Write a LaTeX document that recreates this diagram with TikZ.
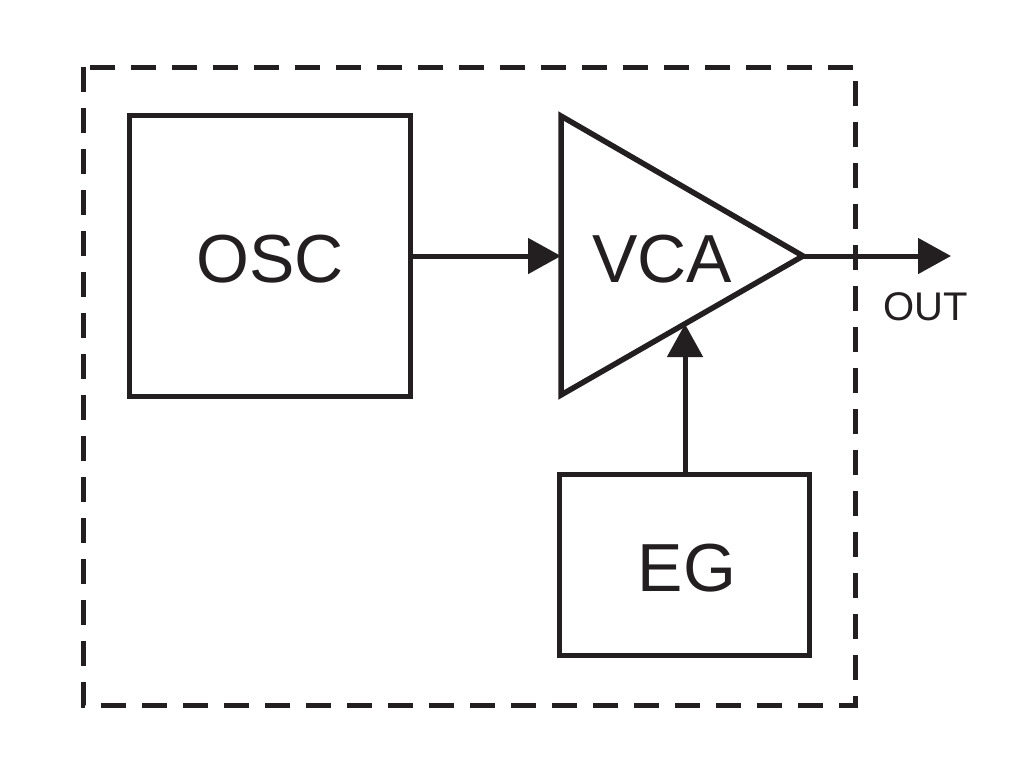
\documentclass[tikz,border=0pt]{standalone}
\usepackage{fontspec}
\setmainfont{Liberation Sans}
\usetikzlibrary{arrows.meta}
\definecolor{ink}{HTML}{231F20}
\begin{document}
\begin{tikzpicture}[x=1pt,y=-1pt,
  box/.style={draw=ink,line width=5.5pt},
  lbl/.style={text=ink,font=\fontsize{68}{80}\selectfont,anchor=base,inner sep=0pt},
  conn/.style={draw=ink,line width=5pt,-{Triangle[length=33pt,width=35pt]}},
  frame/.style={draw=ink,line width=5pt,dash pattern=on 25pt off 16pt}]
\useasboundingbox (0,0) rectangle (1024,772);
\fill[white] (0,0) rectangle (1024,772);
% dashed enclosure
\draw[frame] (83,67) rectangle (855,705);
% OSC box
\draw[box] (129.5,115.5) rectangle (410.5,396.5);
\node[lbl] (osc) at (270,282) {OSC};
\coordinate (oscR) at (410.5,256);
% VCA triangle
\coordinate (tl) at (561,116);
\coordinate (bl) at (561,395);
\coordinate (apex) at (803,256);
\coordinate (vcaIn) at (561,256);
\coordinate (vcaCtl) at (685,324);
\draw[box,line join=miter] (tl) -- (apex) -- (bl) -- cycle;
\node[lbl] (vca) at (662,282) {VCA};
% EG box
\draw[box] (559.5,474.5) rectangle (809.5,655.5);
\node[lbl] (eg) at (687,591) {EG};
\coordinate (egT) at (685,474.5);
% output
\coordinate (out) at (951,256);
\node[text=ink,font=\fontsize{40}{48}\selectfont,anchor=base,inner sep=0pt] (outlbl) at (926,320) {OUT};
% connectors
\draw[conn] (oscR) -- (vcaIn);
\draw[conn] (egT) -- (vcaCtl);
\draw[conn] (apex) -- (out);
\end{tikzpicture}
\end{document}
